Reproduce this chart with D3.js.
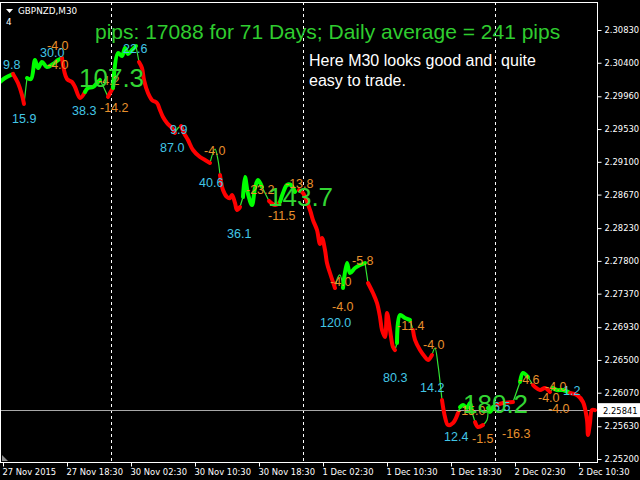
<!DOCTYPE html>
<html><head><meta charset="utf-8">
<script src="https://cdn.jsdelivr.net/npm/d3@7"></script>
<style>
html,body{margin:0;padding:0;background:#000;}
svg{display:block;}
</style>
</head><body>
<svg id="c" width="640" height="480"></svg>
<script>
// ---- data ----
const symbol = "GBPNZD,M30";
const title = "pips: 17088 for 71 Days; Daily average = 241 pips";
const note = ["Here M30 looks good and  quite", "easy to trade."];
const lastPrice = 2.25841;

const priceTicks = [2.30830,2.30400,2.29960,2.29530,2.29100,2.28670,2.28230,2.27800,2.27370,2.26930,2.26500,2.26070,2.25630,2.25200];
const timeTickBars = [0,16,32,48,64,80,96,112,128,144];
const timeTickLabels = ["27 Nov 2015","27 Nov 18:30","30 Nov 02:30","30 Nov 10:30","30 Nov 18:30","1 Dec 02:30","1 Dec 10:30","1 Dec 18:30","2 Dec 02:30","2 Dec 10:30"];
const daySeparatorBars = [27,75,123];

// bar index (M30 bars) of each point of the trend line
const bars = [-0.75,0.5,2.5,3.75,4.75,5.25,6,7,8,8.75,9.75,11,12.5,13.75,14.75,16,17.25,18,19.25,20.5,21.25,22.5,23.5,24.25,25.25,26.25,26.75,27.5,28.75,29.75,30.5,31.25,32.25,33.25,34,34.75,35.25,36.25,37.25,38.5,39.25,40,41,42.25,43,43.75,44.5,45.25,46.25,47.5,49.25,50.5,51.75,53,53.75,54.25,55,56,56.75,57.25,58,58.5,59.25,60,60.5,61.25,62.25,63,63.75,64.75,65.75,66.5,68,69.25,70,71,72,73,74,75,76.75,77.5,78.5,79.25,79.75,80.5,81,81.75,83,83.75,84.25,85,86,86.75,88,89.25,90.5,91.25,92.5,93.5,94.25,94.75,95.5,96,96.75,97.5,98,98.5,99.25,100.5,101.75,102.5,103,104.25,105.5,106.25,107.25,108,108.75,109.75,110.5,111.25,112.5,113.75,114.25,115,116,116.75,117.25,118,118.75,120,121,121.25,121.75,122.5,123.5,125,127.5,129.25,130,131.25,132.5,133,134.25,135.5,136.75,137.5,138.5,140,141.75,143.5,145,146,146.25,146.75,147.25,148];
const prices = [2.30148,2.30200,2.30253,2.30134,2.29977,2.29859,2.30200,2.30187,2.30436,2.30331,2.30410,2.30344,2.30384,2.30436,2.30463,2.30187,2.30148,2.30082,2.29938,2.30016,2.30069,2.30082,2.30134,2.30174,2.30069,2.29951,2.30003,2.30069,2.30528,2.30489,2.30594,2.30515,2.30568,2.30620,2.30410,2.30331,2.30174,2.30003,2.29911,2.29872,2.29780,2.29688,2.29610,2.29544,2.29478,2.29544,2.29570,2.29478,2.29386,2.29255,2.29163,2.29124,2.29085,2.29268,2.29124,2.28927,2.28730,2.28638,2.28625,2.28665,2.28560,2.28468,2.28507,2.28638,2.28901,2.28678,2.28533,2.28756,2.28861,2.28770,2.28665,2.28586,2.28533,2.28573,2.28691,2.28796,2.28796,2.28704,2.28730,2.28691,2.28468,2.28336,2.28205,2.28021,2.28100,2.27943,2.27772,2.27641,2.27444,2.27588,2.27615,2.27444,2.27772,2.27641,2.27707,2.27746,2.27772,2.27510,2.27378,2.27247,2.27063,2.26893,2.26801,2.27116,2.26893,2.26670,2.26630,2.26722,2.27090,2.27050,2.27024,2.26893,2.26762,2.26630,2.26539,2.26499,2.26565,2.26657,2.26434,2.25974,2.25751,2.25646,2.25672,2.25804,2.25882,2.25909,2.25869,2.25935,2.25817,2.25685,2.25620,2.25646,2.25712,2.25869,2.25817,2.25882,2.25909,2.25935,2.25948,2.26210,2.26329,2.26276,2.26171,2.26145,2.26105,2.26132,2.26079,2.26132,2.26105,2.26105,2.26066,2.26040,2.25948,2.25712,2.25515,2.25672,2.25843,2.25841];
// trend state of the segment ending at each point: u = up, d = down, t = transition
const trend = ["s","u","u","d","d","d","t","u","u","u","u","u","u","u","u","d","d","d","d","d","u","u","u","u","t","t","d","d","u","u","u","u","u","u","t","d","d","d","d","d","d","d","d","d","d","t","t","d","d","d","d","d","d","t","t","t","d","d","d","d","d","d","d","t","u","u","u","u","u","u","t","t","d","d","u","u","u","u","t","d","d","d","d","d","d","d","d","d","d","t","t","t","u","u","u","u","u","t","d","d","d","d","d","d","d","d","d","t","u","u","u","t","d","d","d","d","d","t","t","t","d","d","d","d","t","u","u","u","u","t","d","d","t","t","u","u","t","d","d","t","u","u","t","d","d","d","d","t","u","u","u","d","d","d","d","d","d","d"];

// swing labels: text, bar, price
const swingText  = ["9.8","15.9","30.0","38.3","22.6","9.9","87.0","40.6","36.1","120.0","80.3","14.2","12.4","1.2","6.5"];
const swingBar   = [0,2.25,9.25,17.25,30,41.75,39.25,49,56,79.25,95,104.25,110.25,140,122.5];
const swingPrice = [2.30312,2.29616,2.30482,2.29708,2.30522,2.29459,2.29235,2.28776,2.28094,2.26926,2.26217,2.26073,2.25430,2.26046,2.25836];

const pullText  = ["-4.0","-4.0","-4.2","-14.2","-4.0","-23.2","-13.8","-11.5","-4.0","-4.0","-5.8","-11.4","-4.0","-15.0","-1.5","-16.3","-4.6","-4.0","-4.0","-4.0"];
const pullBar   = [11,11,23.75,24.25,50.25,60.75,70.5,66.25,81.75,82.25,87.25,98.5,105,113.5,117.25,124.75,128.75,135.5,133.75,136.25];
const pullPrice = [2.30574,2.30312,2.30102,2.29760,2.29196,2.28684,2.28763,2.28343,2.27464,2.27136,2.27752,2.26899,2.26650,2.25771,2.25416,2.25482,2.26178,2.26086,2.25954,2.25810];

const legText  = ["107.3","143.7","180.2"];
const legBar   = [19,66.25,115];
const legPrice = [2.30082,2.28520,2.25804];

// ---- drawing ----
const svg = d3.select("#c");
const W = 640, H = 480;
const plot = {l:0, t:2, r:597, b:462};
svg.append("rect").attr("width",W).attr("height",H).attr("fill","#000");

const x = d3.scaleLinear().domain([0,16]).range([3,67]);
const y = d3.scaleLinear().domain([2.25200,2.30830]).range([459,30]);

const AXF = "'DejaVu Sans', Verdana, sans-serif";
const TXF = "'Liberation Sans', Arial, sans-serif";

// day separators
svg.append("g").selectAll("line").data(daySeparatorBars).join("line")
  .attr("x1",d=>Math.round(x(d))+0.5).attr("x2",d=>Math.round(x(d))+0.5)
  .attr("y1",plot.t).attr("y2",plot.b)
  .attr("stroke","#fff").attr("stroke-width",1).attr("stroke-dasharray","3,3");

// current price line
svg.append("line").attr("x1",plot.l).attr("x2",plot.r)
  .attr("y1",Math.round(y(lastPrice))+0.5).attr("y2",Math.round(y(lastPrice))+0.5)
  .attr("stroke","#a8a8a8").attr("stroke-width",1);

// trend line segments
const pts = bars.map((b,i)=>({b, p:prices[i], t:trend[i]}));
const segs = [];
for (let i=1;i<pts.length;i++){
  const t = pts[i].t;
  if (segs.length && segs[segs.length-1].t===t) segs[segs.length-1].pts.push(pts[i]);
  else segs.push({t, pts:[pts[i-1], pts[i]]});
}
const line = d3.line().x(d=>x(d.b)).y(d=>y(d.p)).curve(d3.curveCatmullRom.alpha(0.5));
const sty = {u:{c:"#00ff00",w:4}, d:{c:"#ff0000",w:4}, t:{c:"#33e633",w:1.2}};
const order = segs.slice().sort((a,b)=>(a.t==="t"?0:1)-(b.t==="t"?0:1));
svg.append("g").selectAll("path").data(order).join("path")
  .attr("d",d=>line(d.pts)).attr("fill","none")
  .attr("stroke",d=>sty[d.t].c).attr("stroke-width",d=>sty[d.t].w)
  .attr("stroke-linejoin","round").attr("stroke-linecap","round");

// labels
const lab = svg.append("g").attr("font-family",TXF);
lab.selectAll("text.sw").data(swingText).join("text").attr("class","sw")
  .attr("x",(d,i)=>x(swingBar[i])).attr("y",(d,i)=>y(swingPrice[i]))
  .attr("font-size",12.5).attr("fill","#42c6e6").text(d=>d);
lab.selectAll("text.pb").data(pullText).join("text").attr("class","pb")
  .attr("x",(d,i)=>x(pullBar[i])).attr("y",(d,i)=>y(pullPrice[i]))
  .attr("font-size",12.5).attr("fill","#e8902c").text(d=>d);
lab.selectAll("text.lg").data(legText).join("text").attr("class","lg")
  .attr("x",(d,i)=>x(legBar[i])).attr("y",(d,i)=>y(legPrice[i]))
  .attr("font-size",26).attr("fill","#33d633").text(d=>d);

// title & note
svg.append("text").attr("x",95).attr("y",39).attr("font-family",TXF).attr("font-size",21)
  .attr("fill","#2fcc2f").text(title);
svg.append("g").selectAll("text").data(note).join("text")
  .attr("x",309).attr("y",(d,i)=>66+i*20).attr("font-family",TXF).attr("font-size",16)
  .attr("fill","#fff").style("white-space","pre").text(d=>d);

// frame
svg.append("rect").attr("x",plot.l+0.5).attr("y",plot.t+0.5)
  .attr("width",plot.r-plot.l).attr("height",plot.b-plot.t)
  .attr("fill","none").attr("stroke","#fff").attr("stroke-width",1);

// right price axis
const ya = svg.append("g").attr("transform",`translate(${plot.r+0.5},0)`)
  .call(d3.axisRight(y).tickValues(priceTicks).tickSize(4).tickPadding(3).tickFormat(d3.format(".5f")));
ya.select(".domain").remove();
ya.selectAll("line").attr("stroke","#fff");
ya.selectAll("text").attr("fill","#fff").attr("font-family",AXF).attr("font-size",8.4);

// current price tag
const ly = y(lastPrice);
svg.append("rect").attr("x",plot.r+1).attr("y",ly-7).attr("width",W-plot.r-1).attr("height",14).attr("fill","#fff");
svg.append("text").attr("x",603).attr("y",ly+3.5).attr("font-family",AXF).attr("font-size",8.4)
  .attr("fill","#000").text(d3.format(".5f")(lastPrice));

// bottom time axis
const xa = svg.append("g").attr("transform",`translate(0,${plot.b+0.5})`)
  .call(d3.axisBottom(x).tickValues(timeTickBars).tickSize(4).tickFormat((d,i)=>timeTickLabels[i]));
xa.select(".domain").remove();
xa.selectAll("line").attr("stroke","#fff");
xa.selectAll("text").attr("fill","#fff").attr("font-family",AXF).attr("font-size",8.4)
  .attr("text-anchor","start").attr("dx",-1).attr("y",7);

// header
svg.append("path").attr("d",d3.line()([[6,9],[13,9],[9.5,13]])+"Z").attr("fill","#fff");
svg.append("text").attr("x",18).attr("y",14).attr("font-family",AXF).attr("font-size",8.8)
  .attr("fill","#fff").text(symbol);
svg.append("text").attr("x",6).attr("y",25).attr("font-family",AXF).attr("font-size",8.8)
  .attr("fill","#fff").text("4");

// shift marker
svg.append("path").attr("d",d3.line()([[2,455],[2,461],[8,461]])+"Z").attr("fill","#8c8c8c");
</script>
</body></html>
